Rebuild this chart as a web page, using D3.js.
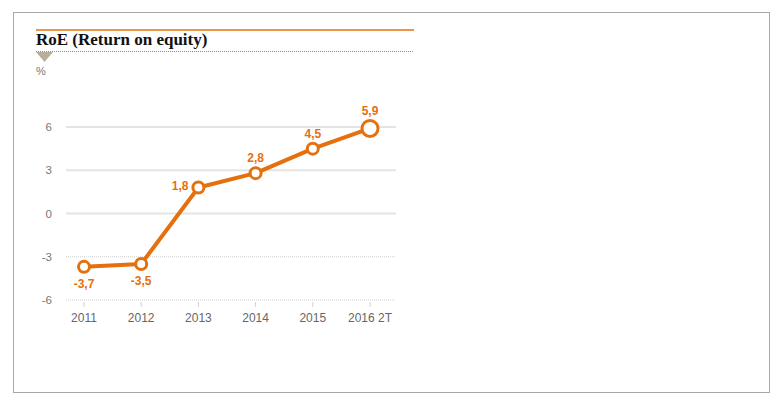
<!DOCTYPE html>
<html>
<head>
<meta charset="utf-8">
<script src="https://cdn.jsdelivr.net/npm/d3@7"></script>
<style>
  body { margin: 0; background: #fff; }
  svg { display: block; }
</style>
</head>
<body>
<div id="grafica"></div>
<script>
// data
var years = ["2011", "2012", "2013", "2014", "2015", "2016 2T"];
var roe = [-3.7, -3.5, 1.8, 2.8, 4.5, 5.9];
var labels = ["-3,7", "-3,5", "1,8", "2,8", "4,5", "5,9"];
var yTicks = [6, 3, 0, -3, -6];

var W = 782, H = 404;
var orange = "#e5700e";

var svg = d3.select("#grafica")
  .append("svg")
  .attr("width", W)
  .attr("height", H);

// frame
svg.append("rect")
  .attr("x", 13.5).attr("y", 12.5)
  .attr("width", 756).attr("height", 380)
  .style("fill", "none")
  .style("stroke", "#a8a8a8");

// header
svg.append("line")
  .attr("x1", 36).attr("x2", 414).attr("y1", 30).attr("y2", 30)
  .style("stroke", orange).style("stroke-width", 1.5);

svg.append("text")
  .attr("x", 36).attr("y", 45)
  .style("font-family", "'Liberation Serif', serif")
  .style("font-weight", "bold")
  .style("font-size", "17px")
  .style("fill", "#111")
  .text("RoE (Return on equity)");

svg.append("line")
  .attr("x1", 36).attr("x2", 414).attr("y1", 51.5).attr("y2", 51.5)
  .style("stroke", orange).style("stroke-width", 1)
  .style("stroke-dasharray", "1,1");

svg.append("path")
  .attr("d", "M36,52 L53,52 L44.5,62 Z")
  .style("fill", "#b8ae9c");

svg.append("text")
  .attr("x", 36).attr("y", 75)
  .style("font-family", "'Liberation Sans', Arial, sans-serif")
  .style("font-size", "11px")
  .style("fill", "#777")
  .text("%");

// scales
var x = d3.scalePoint()
  .domain(years)
  .range([84, 370]);

var y = d3.scaleLinear()
  .domain([-6, 6])
  .range([300, 127]);

// gridlines
svg.append("g")
  .selectAll("line")
  .data(yTicks)
  .enter()
  .append("line")
  .attr("x1", 66).attr("x2", 396)
  .attr("y1", function (d) { return y(d); })
  .attr("y2", function (d) { return y(d); })
  .style("stroke", function (d) { return d < 0 ? "#cfcfcf" : "#e4e4e4"; })
  .style("stroke-width", function (d) { return d < 0 ? 1.2 : 2; })
  .style("stroke-dasharray", function (d) { return d < 0 ? "1,1" : null; });

// y labels
svg.append("g")
  .selectAll("text")
  .data(yTicks)
  .enter()
  .append("text")
  .attr("x", 52)
  .attr("y", function (d) { return y(d) + 4; })
  .attr("text-anchor", "end")
  .style("font-family", "'Liberation Sans', Arial, sans-serif")
  .style("font-size", "11.5px")
  .style("fill", "#777")
  .text(function (d) { return d; });

// x ticks + labels
svg.append("g")
  .selectAll("line")
  .data(years)
  .enter()
  .append("line")
  .attr("x1", function (d) { return x(d); })
  .attr("x2", function (d) { return x(d); })
  .attr("y1", y(-6) + 2).attr("y2", y(-6) + 7)
  .style("stroke", "#d0d0d0");

svg.append("g")
  .selectAll("text")
  .data(years)
  .enter()
  .append("text")
  .attr("x", function (d) { return x(d); })
  .attr("y", 322)
  .attr("text-anchor", "middle")
  .style("font-family", "'Liberation Sans', Arial, sans-serif")
  .style("font-size", "12px")
  .style("fill", "#666")
  .text(function (d) { return d; });

// line
var pts = years.map(function (d, i) { return { year: d, v: roe[i], lab: labels[i], i: i }; });

svg.append("path")
  .datum(pts)
  .attr("d", d3.line()
    .x(function (d) { return x(d.year); })
    .y(function (d) { return y(d.v); }))
  .style("fill", "none")
  .style("stroke", orange)
  .style("stroke-width", 4)
  .style("stroke-linejoin", "round");

svg.append("g")
  .selectAll("circle")
  .data(pts)
  .enter()
  .append("circle")
  .attr("cx", function (d) { return x(d.year); })
  .attr("cy", function (d) { return y(d.v); })
  .attr("r", function (d) { return d.i == pts.length - 1 ? 8 : 5.5; })
  .style("fill", "#fff")
  .style("stroke", orange)
  .style("stroke-width", 3);

// value labels
svg.append("g")
  .selectAll("text")
  .data(pts)
  .enter()
  .append("text")
  .attr("x", function (d) {
    if (d.i == 2) return x(d.year) - 10;
    return x(d.year);
  })
  .attr("y", function (d) {
    if (d.v < 0) return y(d.v) + 21;
    if (d.i == 2) return y(d.v) + 2;
    if (d.i == pts.length - 1) return y(d.v) - 13;
    return y(d.v) - 11;
  })
  .attr("text-anchor", function (d) { return d.i == 2 ? "end" : "middle"; })
  .style("font-family", "'Liberation Sans', Arial, sans-serif")
  .style("font-size", "12px")
  .style("font-weight", "bold")
  .style("fill", orange)
  .text(function (d) { return d.lab; });
</script>
</body>
</html>
